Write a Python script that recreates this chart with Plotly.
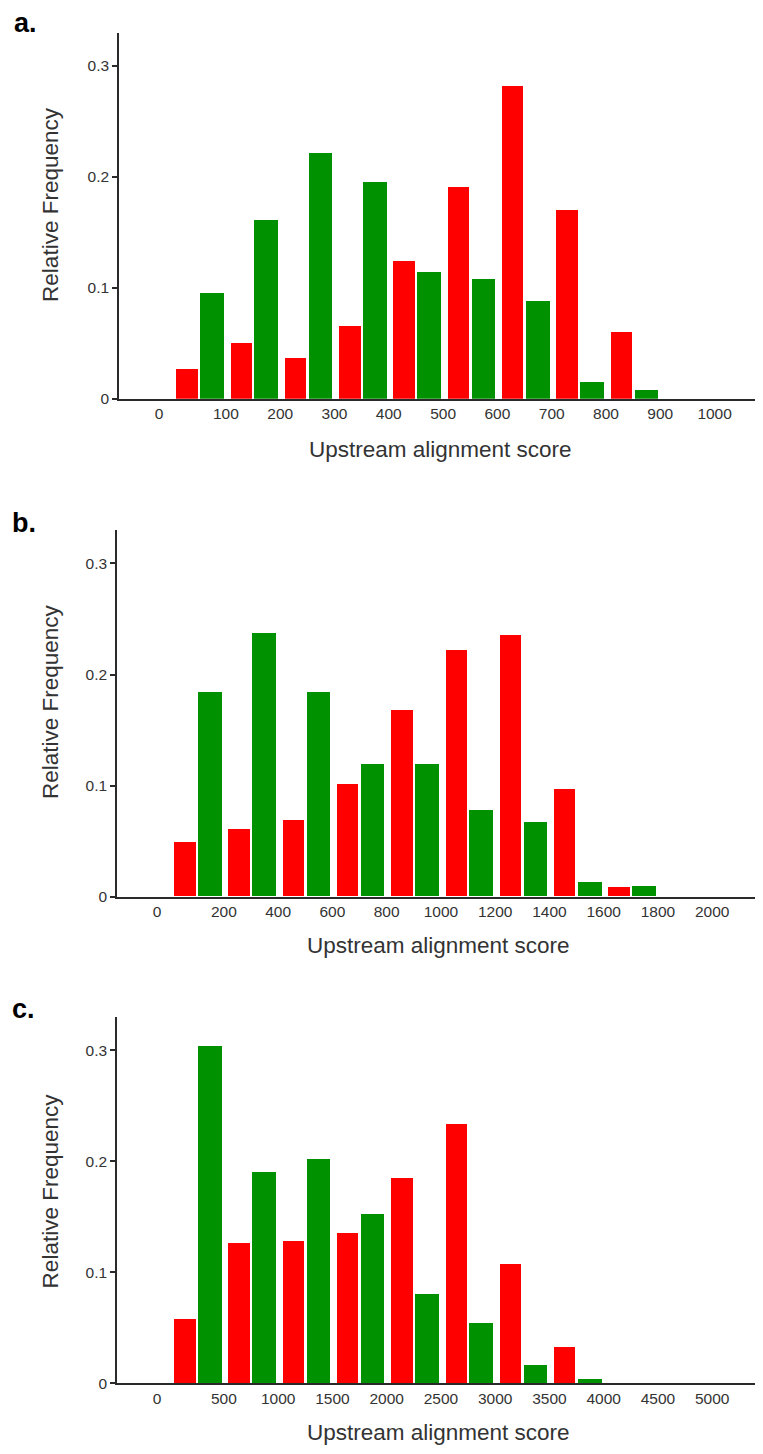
import plotly.graph_objects as go
import numpy as np

# the page body adds an 8px margin on every side; the figure is sized/shifted to fit
OFF = 8
W, H = 763 - OFF, 1454 - 2 * OFF

# ---------------- data ----------------
# bin widths (score units) per panel; red = first bin of each pair, green = second
bin_a = 50
red_a = [0.027, 0.050, 0.037, 0.066, 0.124, 0.191, 0.282, 0.170, 0.060]
green_a = [0.095, 0.161, 0.221, 0.195, 0.114, 0.108, 0.088, 0.015, 0.008]
ticks_a = [0, 100, 200, 300, 400, 500, 600, 700, 800, 900, 1000]
labels_a = ["0", "100", "200", "300", "400", "500", "600", "700", "800", "900", "1000"]

bin_b = 100
red_b = [0.049, 0.061, 0.069, 0.101, 0.168, 0.222, 0.235, 0.097, 0.008]
green_b = [0.184, 0.237, 0.184, 0.119, 0.119, 0.078, 0.067, 0.013, 0.009]
ticks_b = [0, 200, 400, 600, 800, 1000, 1200, 1400, 1600, 1800, 2000]
labels_b = ["0", "200", "400", "600", "800", "1000", "1200", "1400", "1600", "1800", "2000"]

bin_c = 250
red_c = [0.058, 0.126, 0.128, 0.135, 0.185, 0.233, 0.107, 0.033]
green_c = [0.304, 0.190, 0.202, 0.152, 0.080, 0.054, 0.016, 0.004]
ticks_c = [0, 500, 1000, 1500, 2000, 2500, 3000, 3500, 4000, 4500, 5000]
labels_c = ["0", "500", "1000", "1500", "2000", "2500", "3000", "3500", "4000", "4500", "5000"]

y_ticks = [0, 0.1, 0.2, 0.3]
y_labels = ["0", "0.1", "0.2", "0.3"]

panel_letters = ["a.", "b.", "c."]
x_title = "Upstream alignment score"
y_title = "Relative Frequency"

# ---------------- layout geometry (reference pixels) ----------------
panels = [
    dict(bw=bin_a, red=red_a, green=green_a, ticks=ticks_a, labels=labels_a,
         xl=119, xr=762, ybot=401, ytop=33, tick0=172.7, pxstep=54.3),
    dict(bw=bin_b, red=red_b, green=green_b, ticks=ticks_b, labels=labels_b,
         xl=117, xr=762, ybot=901.7, ytop=533.3, tick0=170.7, pxstep=54.26),
    dict(bw=bin_c, red=red_c, green=green_c, ticks=ticks_c, labels=labels_c,
         xl=117, xr=762, ybot=1391, ytop=1022.7, tick0=170.7, pxstep=54.26),
]
letter_pos = [(12, 23), (10, 526), (10, 1015)]
ytitle_pos = [(51, 206), (50, 706), (50, 1198)]
xtitle_drop = [51, 49, 49]


def fx(px):
    return (px - OFF) / W


def fy(py):
    return 1 - (py - OFF) / H


RED = "#ff0000"
GREEN = "#009100"
AX = "#2a2a2a"
TXT = "#333333"
FONT = "Liberation Sans, Arial, sans-serif"

fig = go.Figure()
layout = dict(width=W, height=H, margin=dict(l=0, r=0, t=0, b=0, pad=0),
              paper_bgcolor="white", plot_bgcolor="white", showlegend=False,
              bargap=0, barmode="overlay", font=dict(family=FONT, color=TXT))
annotations = []

for p, P in enumerate(panels):
    bw = P["bw"]
    ix_main, ix_out, ix_in = 1 + 3 * p, 2 + 3 * p, 3 + 3 * p
    iy_main, iy_in = 1 + 2 * p, 2 + 2 * p
    xn = lambda i: "x" if i == 1 else f"x{i}"
    yn = lambda i: "y" if i == 1 else f"y{i}"
    xk = lambda i: "xaxis" if i == 1 else f"xaxis{i}"
    yk = lambda i: "yaxis" if i == 1 else f"yaxis{i}"

    unit_px = P["pxstep"] / (P["ticks"][1] - P["ticks"][0])
    xr0 = (P["xl"] - P["tick0"]) / unit_px
    xr1 = (P["xr"] - P["tick0"]) / unit_px
    yrng = [0, (P["ybot"] - P["ytop"]) / 1117.0]
    xdom = [fx(P["xl"]), min(1.0, fx(P["xr"]))]
    ydom = [fy(P["ybot"]), fy(P["ytop"])]

    n_r = len(P["red"])
    red_x = np.arange(n_r) * 2 * bw
    green_x = np.arange(len(P["green"])) * 2 * bw + bw

    fig.add_trace(go.Bar(x=red_x, y=P["red"], width=0.79 * bw, offset=0.13 * bw,
                         marker=dict(color=RED, line=dict(width=0)),
                         xaxis=xn(ix_main), yaxis=yn(iy_main)))
    fig.add_trace(go.Bar(x=green_x, y=P["green"], width=0.87 * bw, offset=0.01 * bw,
                         marker=dict(color=GREEN, line=dict(width=0)),
                         xaxis=xn(ix_main), yaxis=yn(iy_main)))

    label_vals = [-bw / 2] + [t - 0.04 * bw for t in P["ticks"][1:]]
    layout[xk(ix_main)] = dict(domain=xdom, range=[xr0, xr1], anchor=yn(iy_main),
                               showgrid=False, zeroline=False, showline=True,
                               linecolor=AX, linewidth=1.5,
                               tickmode="array", tickvals=label_vals, ticktext=P["labels"],
                               ticks="", ticklabelstandoff=0,
                               tickfont=dict(size=15.5, color=TXT, family=FONT))
    for ix, side in ((ix_out, "outside"), (ix_in, "inside")):
        layout[xk(ix)] = dict(domain=xdom, range=[xr0, xr1], anchor=yn(iy_main),
                              overlaying=xn(ix_main), side="bottom",
                              showgrid=False, zeroline=False, showline=False,
                              tickmode="array", tickvals=P["ticks"], showticklabels=False,
                              ticks=side, ticklen=4, tickwidth=1.5, tickcolor=AX)
    layout[yk(iy_main)] = dict(domain=ydom, range=yrng, anchor=xn(ix_main),
                               showgrid=False, zeroline=False, showline=True,
                               linecolor=AX, linewidth=1.5,
                               tickmode="array", tickvals=y_ticks, ticktext=y_labels,
                               ticks="outside", ticklen=5, tickwidth=1.5, tickcolor=AX,
                               ticklabelstandoff=0,
                               tickfont=dict(size=15.5, color=TXT, family=FONT))
    layout[yk(iy_in)] = dict(domain=ydom, range=yrng, anchor=xn(ix_main),
                             overlaying=yn(iy_main), side="left",
                             showgrid=False, zeroline=False, showline=False,
                             tickmode="array", tickvals=y_ticks, showticklabels=False,
                             ticks="inside", ticklen=5, tickwidth=1.5, tickcolor=AX)

    # axis titles and panel letters
    xc = (308 + 574) / 2 + (P["xl"] - 119)
    annotations.append(dict(text=x_title, x=fx(xc), y=fy(P["ybot"] + xtitle_drop[p]),
                            xref="paper", yref="paper", showarrow=False,
                            xanchor="center", yanchor="middle",
                            font=dict(size=22.5, color=TXT, family=FONT)))
    tx, ty = ytitle_pos[p]
    annotations.append(dict(text=y_title, x=fx(tx), y=fy(ty), textangle=-90,
                            xref="paper", yref="paper", showarrow=False,
                            xanchor="center", yanchor="middle",
                            font=dict(size=22.5, color=TXT, family=FONT)))
    lx, ly = letter_pos[p]
    annotations.append(dict(text="<b>" + panel_letters[p] + "</b>", x=fx(lx), y=fy(ly),
                            xref="paper", yref="paper", showarrow=False,
                            xanchor="left", yanchor="middle",
                            font=dict(size=27, color="black", family=FONT)))

layout["annotations"] = annotations
fig.update_layout(**layout)
fig.write_html("out.html")
